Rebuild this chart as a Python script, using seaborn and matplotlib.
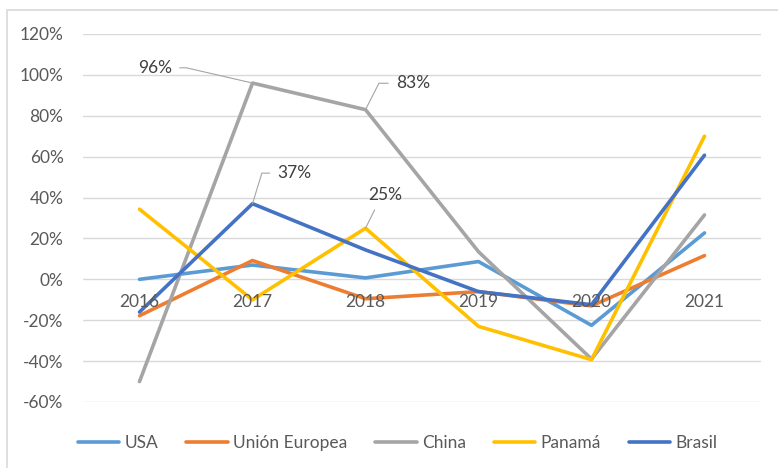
import numpy as np
import pandas as pd
import matplotlib
matplotlib.use("Agg")
import matplotlib.pyplot as plt
import seaborn as sns
from matplotlib.patches import Rectangle

# Data
years = ["2016", "2017", "2018", "2019", "2020", "2021"]
usa = [0.00, 0.07, 0.007, 0.087, -0.225, 0.227]
union_europea = [-0.178, 0.092, -0.095, -0.06, -0.13, 0.116]
china = [-0.50, 0.96, 0.83, 0.135, -0.39, 0.315]
panama = [0.343, -0.10, 0.25, -0.23, -0.393, 0.70]
brasil = [-0.16, 0.37, 0.144, -0.06, -0.124, 0.607]

series_names = ["USA", "Unión Europea", "China", "Panamá", "Brasil"]
series_colors = ["#5B9BD5", "#ED7D31", "#A5A5A5", "#FFC000", "#4472C4"]
y_ticks = [-0.6, -0.4, -0.2, 0.0, 0.2, 0.4, 0.6, 0.8, 1.0, 1.2]

# labelled points: (series values, year index, text offset in points)
labels = [
    (china, 1, (-70, 11), (1, 0.5), "angle,angleA=0,angleB=167,rad=0"),
    (china, 2, (34, 19), (0, 0.5), "angle,angleA=0,angleB=63,rad=0"),
    (brasil, 1, (30, 22), (0, 0.5), "angle,angleA=0,angleB=73,rad=0"),
    (panama, 2, (14, 24), (0.3, 0), "arc3,rad=0"),
]

#%%
rows = []
for name, vals in zip(series_names, [usa, union_europea, china, panama, brasil]):
    for i, v in enumerate(vals):
        rows.append({"pos": i, "year": years[i], "value": v, "serie": name})
df = pd.DataFrame(rows)

#%%
sns.set_theme(style="white")
plt.rcParams["font.family"] = ["Lato", "DejaVu Sans"]
text_color = "#595959"
fs = 12.5

fig = plt.figure(figsize=(7.78, 4.68), dpi=100)
ax = fig.add_axes([83 / 778, 1 - 402 / 468, (761 - 83) / 778, (402 - 34) / 468])

# outer chart border
fig.patches.append(Rectangle((7 / 778, -0.05), 1.0, 1 - 10 / 468 + 0.05,
                             transform=fig.transFigure, fill=False,
                             edgecolor="#D9D9D9", lw=1.2, zorder=0))

sns.lineplot(data=df, x="pos", y="value", hue="serie", hue_order=series_names,
             palette=series_colors, linewidth=2.6, ax=ax, sort=False)

ax.set_xlim(-0.5, len(years) - 0.5)
ax.set_ylim(-0.6, 1.2)
ax.set_yticks(y_ticks)
ax.set_yticklabels([f"{int(round(t * 100))}%" for t in y_ticks], color=text_color, fontsize=fs)
ax.set_xticks([])
ax.set_xlabel("")
ax.set_ylabel("")
ax.tick_params(axis="y", length=0, pad=14)
ax.grid(axis="y", color="#D9D9D9", lw=1)
ax.set_axisbelow(True)
for s in ax.spines.values():
    s.set_visible(False)

# category labels sit just under the zero line
for i, y in enumerate(years):
    ax.annotate(y, (i, 0), xytext=(0, -16.5), textcoords="offset points",
                ha="center", va="center", color=text_color, fontsize=fs)

for vals, idx, off, rp, cs in labels:
    ax.annotate(f"{int(round(vals[idx] * 100))}%", (idx, vals[idx]), xytext=off,
                textcoords="offset points", ha="center", va="center",
                color="#404040", fontsize=fs,
                arrowprops=dict(arrowstyle="-", color="#A5A5A5", lw=0.8,
                                shrinkA=3, shrinkB=0, relpos=rp, connectionstyle=cs))

handles, labs = ax.get_legend_handles_labels()
ax.get_legend().remove()
fig.legend(handles, labs, loc="center", bbox_to_anchor=(0.511, 1 - 443 / 468), ncol=5,
           frameon=False, handlelength=2.4, columnspacing=1.6, handletextpad=0.3,
           fontsize=fs, labelcolor=text_color)

fig.savefig("out.png", dpi=100)
